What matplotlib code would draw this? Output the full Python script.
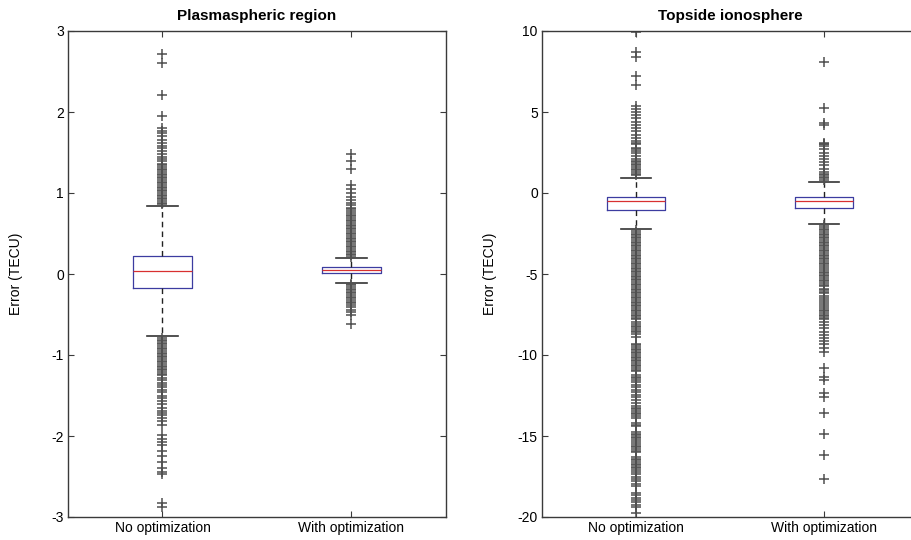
import matplotlib
matplotlib.use("Agg")
import matplotlib.pyplot as plt

plt.rcParams['font.family'] = ['Liberation Sans', 'DejaVu Sans']
plt.rcParams['axes.unicode_minus'] = False

categories = ["No optimization", "With optimization"]

# ---------------- Plasmaspheric region ----------------
plasma_titles = "Plasmaspheric region"
plasma_q1 = [-0.177, 0.016]
plasma_med = [0.043, 0.045]
plasma_q3 = [0.226, 0.09]
plasma_whislo = [-0.77, -0.11]
plasma_whishi = [0.84, 0.20]
plasma_fliers_no = [
    0.86, 0.88, 0.90, 0.92, 0.94, 0.96, 0.98, 1.00, 1.02, 1.04, 1.06, 1.08, 1.10,
    1.12, 1.14, 1.16, 1.18, 1.20, 1.22, 1.24, 1.26,
    1.28, 1.30, 1.32, 1.34, 1.36, 1.40, 1.42, 1.45, 1.48, 1.52, 1.55, 1.58, 1.62,
    1.66, 1.70, 1.74, 1.77, 1.80, 1.95, 2.21, 2.61, 2.72,
    -0.79, -0.81, -0.83, -0.85, -0.87, -0.89, -0.91, -0.93, -0.95, -0.97, -0.99,
    -1.01, -1.03, -1.05, -1.07, -1.09, -1.11, -1.13, -1.15, -1.17, -1.19, -1.21,
    -1.23, -1.25,
    -1.28, -1.31, -1.34, -1.37, -1.40, -1.43, -1.46, -1.50, -1.53, -1.57, -1.60,
    -1.66, -1.69, -1.72, -1.74, -1.78, -1.82, -1.86, -1.99, -2.04, -2.08, -2.11,
    -2.19, -2.25, -2.32, -2.40, -2.45, -2.47, -2.83, -2.88,
]
plasma_fliers_with = [
    0.21, 0.23, 0.25, 0.27, 0.29, 0.31, 0.33, 0.35, 0.37, 0.39, 0.41, 0.43, 0.45,
    0.47, 0.49, 0.51, 0.53, 0.55, 0.57, 0.59, 0.61, 0.63, 0.65, 0.67, 0.69, 0.71,
    0.73, 0.75,
    0.78, 0.80, 0.82, 0.85, 0.88, 0.91, 0.95, 1.00, 1.05, 1.10, 1.30, 1.40, 1.48,
    -0.12, -0.14, -0.16, -0.18, -0.20, -0.22, -0.24, -0.26, -0.28, -0.30, -0.32,
    -0.34, -0.36, -0.38, -0.41, -0.44, -0.47, -0.50, -0.62,
]

# ---------------- Topside ionosphere ----------------
top_q1 = [-1.03, -0.90]
top_med = [-0.50, -0.50]
top_q3 = [-0.25, -0.25]
top_whislo = [-2.22, -1.91]
top_whishi = [0.94, 0.68]
top_fliers_no = [
    1.1, 1.2, 1.3, 1.4, 1.5, 1.6, 1.7, 1.8, 1.9, 2.0, 2.1, 2.3, 2.5, 2.6, 2.7, 2.8,
    3.0, 3.1, 3.2, 3.4, 3.6, 3.8, 4.0, 4.2, 4.4, 4.6, 4.8, 5.0, 5.2, 5.4,
    6.67, 7.22, 8.37, 8.72, 9.95,
    -2.3, -2.4, -2.5, -2.6, -2.7, -2.8, -2.9, -3.0, -3.1, -3.2, -3.3, -3.4, -3.5,
    -3.6, -3.7, -3.8, -3.9, -4.0, -4.1, -4.2, -4.3, -4.4, -4.5, -4.6, -4.7, -4.8,
    -4.9, -5.0, -5.1, -5.2, -5.3, -5.4, -5.5, -5.6, -5.7, -5.8, -5.9, -6.0, -6.1,
    -6.2, -6.3, -6.4, -6.5, -6.6, -6.7, -6.8, -6.9, -7.0, -7.1, -7.2, -7.3, -7.4,
    -7.5, -7.6, -7.7, -7.8,
    -7.94, -8.1, -8.2, -8.3, -8.4, -8.5, -8.6, -8.7, -8.9,
    -9.3, -9.4, -9.5, -9.6, -9.7, -9.8, -9.9, -10.0, -10.1,
    -10.2, -10.3, -10.4, -10.5, -10.6, -10.7, -10.8, -10.9, -11.0,
    -11.25, -11.35, -11.45, -11.55, -11.65,
    -11.85, -12.0, -12.15, -12.3, -12.45, -12.6, -12.8, -12.95,
    -13.15, -13.25, -13.35, -13.45, -13.55, -13.65, -13.75, -13.9,
    -14.2, -14.3, -14.4, -14.75, -14.85, -14.95, -15.05, -15.15, -15.25,
    -15.4, -15.5, -15.6, -15.7, -15.8, -15.9, -16.0,
    -16.3, -16.4, -16.5, -16.6, -16.7, -16.8, -16.9, -17.0, -17.1, -17.2,
    -17.35, -17.5, -17.65, -17.8, -17.95, -18.1,
    -18.5, -18.65, -18.8, -18.95, -19.1, -19.25, -19.4, -19.75,
]
top_fliers_with = [
    0.8, 0.9, 1.0, 1.1, 1.2, 1.3, 1.5, 1.7, 1.9, 2.1, 2.3, 2.5, 2.7, 2.9, 3.0,
    3.05, 3.1, 4.2, 4.3, 5.23, 8.1,
    -2.0, -2.1, -2.2, -2.3, -2.4, -2.5, -2.6, -2.7, -2.8, -2.9, -3.0, -3.1, -3.2,
    -3.3, -3.4, -3.5, -3.6, -3.7, -3.8, -3.9, -4.0, -4.1, -4.2, -4.3, -4.4, -4.5,
    -4.65, -4.75, -4.85, -4.95, -5.05, -5.15, -5.25, -5.35, -5.45, -5.55, -5.65,
    -5.75,
    -5.9, -6.0, -6.1, -6.2, -6.35, -6.5, -6.6, -6.7, -6.85, -7.0, -7.1, -7.2,
    -7.3, -7.4, -7.5, -7.6, -7.7, -7.8,
    -7.95, -8.15, -8.35, -8.55, -8.75, -8.95, -9.15, -9.35, -9.55, -9.8,
    -10.78, -11.34, -11.55, -12.37, -12.57, -13.56, -14.9, -16.2, -17.65,
]

top_title = "Topside ionosphere"
ylabel = "Error (TECU)"

BOX_C = '#3c3ca0'
MED_C = '#d83030'
FLIER_C = '#505050'
SPINE_C = '#3a3a3a'

fig = plt.figure(figsize=(9.12, 5.40), dpi=100)
fig.patch.set_facecolor('white')


def make_stats(q1, med, q3, lo, hi, fliers_list):
    stats = []
    for i in range(len(q1)):
        stats.append(dict(q1=q1[i], med=med[i], q3=q3[i], whislo=lo[i],
                          whishi=hi[i], fliers=fliers_list[i], label=categories[i]))
    return stats


def draw(ax, stats, title, ylim, yticks):
    ax.bxp(stats, positions=[1, 2], widths=0.31, capwidths=0.16,
           boxprops=dict(color=BOX_C, linewidth=0.9),
           medianprops=dict(color=MED_C, linewidth=0.9),
           whiskerprops=dict(color='#222222', linewidth=1.0, linestyle=(0, (4, 3))),
           capprops=dict(color='#333333', linewidth=1.2),
           flierprops=dict(marker='+', markersize=6.5, markeredgewidth=1.1,
                           markeredgecolor=FLIER_C, linestyle='none'))
    ax.set_xlim(0.5, 2.5)
    ax.set_ylim(*ylim)
    ax.set_yticks(yticks)
    ax.set_xticks([1, 2])
    ax.set_xticklabels(categories)
    ax.tick_params(direction='in', top=True, right=True, length=4, width=0.8,
                   labelsize=10, colors=SPINE_C, labelcolor='black', pad=3)
    for s in ax.spines.values():
        s.set_color(SPINE_C)
        s.set_linewidth(1.0)
    ax.set_title(title, fontsize=11, fontweight='bold', pad=8)
    ax.set_ylabel(ylabel, fontsize=10)


ax1 = fig.add_axes([68 / 912, 23 / 540, 378 / 912, 486 / 540])
draw(ax1, make_stats(plasma_q1, plasma_med, plasma_q3, plasma_whislo, plasma_whishi,
                     [plasma_fliers_no, plasma_fliers_with]),
     plasma_titles, (-3, 3), [-3, -2, -1, 0, 1, 2, 3])
ax1.yaxis.set_label_coords(-0.118, 0.5)

ax2 = fig.add_axes([542 / 912, 23 / 540, 376 / 912, 486 / 540])
draw(ax2, make_stats(top_q1, top_med, top_q3, top_whislo, top_whishi,
                     [top_fliers_no, top_fliers_with]),
     top_title, (-20, 10), [-20, -15, -10, -5, 0, 5, 10])
ax2.yaxis.set_label_coords(-0.12, 0.5)

fig.savefig("out.png", dpi=100, facecolor='white')
